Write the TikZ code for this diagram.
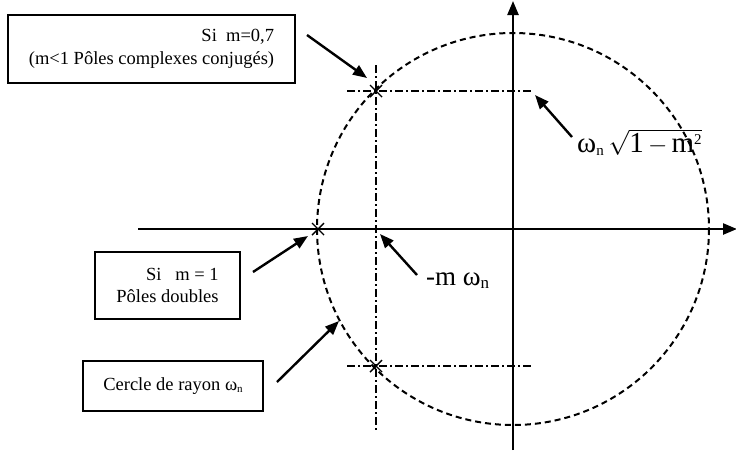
\documentclass[tikz,border=0pt]{standalone}
\usepackage{fontspec}
\setmainfont{Liberation Serif}
\usetikzlibrary{arrows.meta,calc}
\begin{document}
\begin{tikzpicture}[x=1pt,y=-1pt,
  axis/.style={line width=2.4pt,-{Triangle[length=14pt,width=11pt]}},
  ptr/.style={line width=2.4pt,-{Triangle[length=14pt,width=11pt]}},
  circ/.style={line width=2pt,dash pattern=on 6pt off 4pt},
  dashdot/.style={line width=2.2pt,dash pattern=on 8pt off 3pt on 2pt off 3pt},
  cross/.style={line width=1.4pt},
  infobox/.style={draw,line width=1.5pt,align=right,inner sep=0pt,font=\fontsize{18.5}{22.5}\selectfont},
  biglabel/.style={inner sep=0pt,anchor=base west}]
\useasboundingbox (0,0) rectangle (736,459);
% axes
\coordinate (O) at (513,229);
\coordinate (xl) at (138,229);
\coordinate (xr) at (737,229);
\coordinate (yb) at (513,450);
\coordinate (yt) at (513,1);
\draw[axis] (xl) -- (xr);
\draw[axis] (yb) -- (yt);
% circle
\draw[circ] (O) circle[radius=196];
% poles
\coordinate (p1) at (376,91);
\coordinate (p2) at (318,229);
\coordinate (p3) at (376,366);
% dash-dot lines
\coordinate (vt) at (376,65);
\coordinate (vb) at (376,431);
\coordinate (h1l) at (347,91);
\coordinate (h1r) at (533,91);
\coordinate (h3l) at (347,366);
\coordinate (h3r) at (533,366);
\draw[dashdot] (vt) -- (vb);
\draw[dashdot] (h1l) -- (h1r);
\draw[dashdot] (h3l) -- (h3r);
% crosses
\foreach \p in {p1,p2,p3}{
  \draw[cross] ($(\p)+(-6,-6)$) -- ($(\p)+(6,6)$);
  \draw[cross] ($(\p)+(-6,6)$) -- ($(\p)+(6,-6)$);
}
% boxes
\node[infobox,minimum width=287pt,minimum height=68pt] (b1) at (151.5,49) {Si\ \ m=0,7\\(m<1 Pôles complexes conjugés)};
\node[infobox,minimum width=145pt,minimum height=67pt] (b2) at (167.5,285.5) {Si\ \ \ m = 1\\Pôles doubles};
\node[infobox,minimum width=180pt,minimum height=50pt] (b3) at (173,386) {Cercle de rayon ω\raisebox{-0.3ex}{\fontsize{11}{11}\selectfont n}};
% labels
\node[biglabel,font=\fontsize{27}{31}\selectfont] (lm) at (426,285) {-m ω\raisebox{-0.25ex}{\fontsize{17}{17}\selectfont n}};
\node[biglabel,font=\fontsize{29}{33}\selectfont] (lw) at (577,152) {ω\raisebox{-0.3ex}{\fontsize{15}{15}\selectfont n}\,$\sqrt{\mbox{1}\mkern-1mu-\mkern-1mu\mbox{m}^{\mbox{\fontsize{15}{15}\selectfont 2}}}$};
% arrows
\coordinate (a1s) at (307,35);
\coordinate (a1e) at (367,78);
\coordinate (a2s) at (572,137);
\coordinate (a2e) at (535,95);
\coordinate (a3s) at (417,275);
\coordinate (a3e) at (380,234);
\coordinate (a4s) at (253,272);
\coordinate (a4e) at (308,236);
\coordinate (a5s) at (277,382);
\coordinate (a5e) at (339,321);
\draw[ptr] (a1s) -- (a1e);
\draw[ptr] (a2s) -- (a2e);
\draw[ptr] (a3s) -- (a3e);
\draw[ptr] (a4s) -- (a4e);
\draw[ptr] (a5s) -- (a5e);
\end{tikzpicture}
\end{document}
